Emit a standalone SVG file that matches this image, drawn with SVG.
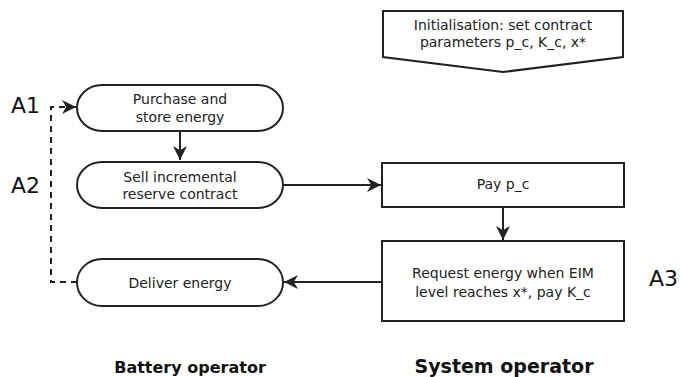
<svg xmlns="http://www.w3.org/2000/svg" width="680" height="377" viewBox="0 0 680 377">
<defs>
<style>
.n{fill:#fff;stroke:#222;stroke-width:2}
.t{font-family:"DejaVu Sans",sans-serif;font-size:14px;fill:#222;text-anchor:middle}
.c{fill:none;stroke:#222;stroke-width:2}
.lab{font-family:"DejaVu Sans",sans-serif;font-size:22px;fill:#111}
.h{font-family:"DejaVu Sans",sans-serif;font-weight:bold;fill:#111;text-anchor:middle}
</style>
<marker id="ah2" viewBox="0 0 10 10" refX="10" refY="5" markerWidth="14" markerHeight="14" markerUnits="userSpaceOnUse" orient="auto">
<path d="M0,0 L10,5 L0,10 L3,5 Z" fill="#222"/>
</marker>
</defs>
<g id="init"><path class="n" d="M383,11 H623 V57 L503,72 L383,57 Z"/><text class="t" x="503" y="30">Initialisation: set contract</text><text class="t" x="503" y="47">parameters p_c, K_c, x*</text></g>
<g id="purchase"><rect class="n" x="77" y="85" width="206" height="46" rx="25" ry="23"/><text class="t" x="180" y="104">Purchase and</text><text class="t" x="180" y="122">store energy</text></g>
<g id="sell"><rect class="n" x="77" y="162" width="206" height="46" rx="25" ry="23"/><text class="t" x="180" y="182">Sell incremental</text><text class="t" x="180" y="199">reserve contract</text></g>
<g id="deliver"><rect class="n" x="77" y="259" width="206" height="47" rx="25" ry="23.5"/><text class="t" x="180" y="288">Deliver energy</text></g>
<g id="pay"><rect class="n" x="382" y="163" width="242" height="44"/><text class="t" x="503" y="189">Pay p_c</text></g>
<g id="request"><rect class="n" x="382" y="241" width="242" height="80"/><text class="t" x="503" y="278">Request energy when EIM</text><text class="t" x="503" y="297">level reaches x*, pay K_c</text></g>
<g id="connectors">
<path class="c" d="M180,131 V160" marker-end="url(#ah2)"/>
<path class="c" d="M283,185 H381" marker-end="url(#ah2)"/>
<path class="c" d="M503,207 V240" marker-end="url(#ah2)"/>
<path class="c" d="M382,282 H284" marker-end="url(#ah2)"/>
<path class="c" d="M77,282 H51 V107 H76" stroke-dasharray="6,5" marker-end="url(#ah2)"/>
</g>
<g id="labels">
<text class="lab" x="11" y="113">A1</text>
<text class="lab" x="11" y="193">A2</text>
<text class="lab" x="649" y="286">A3</text>
<text class="h" x="190" y="373" font-size="16">Battery operator</text>
<text class="h" x="504" y="373" font-size="19">System operator</text>
</g>
</svg>
